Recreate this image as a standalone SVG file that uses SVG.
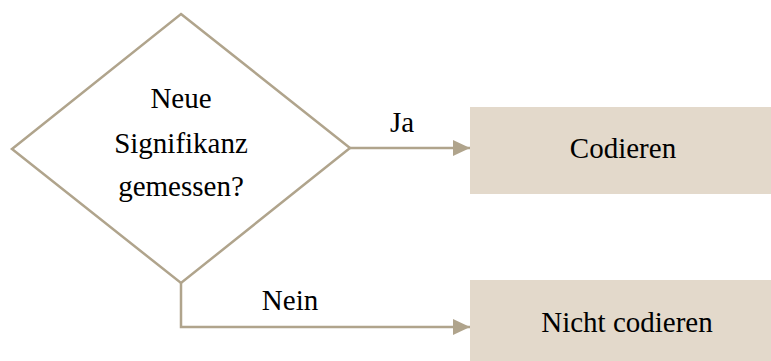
<svg xmlns="http://www.w3.org/2000/svg" width="771" height="361" viewBox="0 0 771 361">
<style>
.shape{fill:none;stroke:#b0a48c;stroke-width:2.5}
.box{fill:#e3d9cb}
.t{font-family:"Liberation Serif","Times New Roman",serif;font-size:29px;fill:#000;text-anchor:middle}
.conn{fill:none;stroke:#b0a48c;stroke-width:2.5}
</style>
<defs>
<marker id="arr" markerUnits="userSpaceOnUse" markerWidth="18" markerHeight="18" refX="17" refY="8" orient="auto">
<path d="M0,0 L17,8 L0,16 Z" fill="#b0a48c"/>
</marker>
</defs>
<rect width="771" height="361" fill="#fff"/>
<g id="decision">
<polygon class="shape" points="181,14 350,148 181,283 12,149" fill="#fff"/>
<text class="t" x="181" y="108">Neue</text>
<text class="t" x="181" y="153">Signifikanz</text>
<text class="t" x="181" y="196">gemessen?</text>
</g>
<g id="codieren">
<rect class="box" x="470" y="107" width="301" height="87"/>
<text class="t" x="623" y="158">Codieren</text>
</g>
<g id="nicht-codieren">
<rect class="box" x="470" y="280" width="301" height="81"/>
<text class="t" x="627" y="332">Nicht codieren</text>
</g>
<g id="connectors">
<path class="conn" d="M350,148 L470,148" marker-end="url(#arr)"/>
<path class="conn" d="M181,283 L181,327 L470,327" marker-end="url(#arr)"/>
<text class="t" x="402" y="132">Ja</text>
<text class="t" x="290" y="310">Nein</text>
</g>
</svg>
